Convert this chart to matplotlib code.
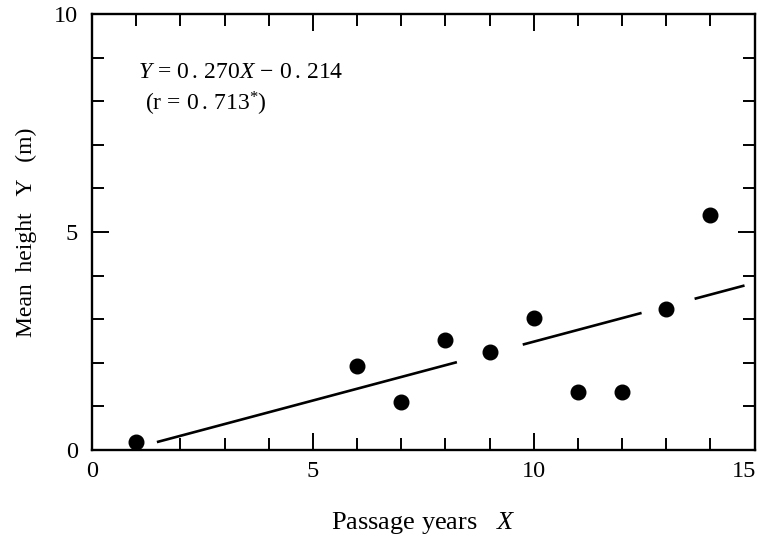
import matplotlib.pyplot as plt
from matplotlib.transforms import ScaledTranslation

plt.rcParams['font.family'] = 'Liberation Serif'
plt.rcParams['mathtext.fontset'] = 'custom'
plt.rcParams['mathtext.rm'] = 'Liberation Serif'
plt.rcParams['mathtext.it'] = 'Liberation Serif:italic'

# Passage years (X) and mean height (Y, m)
years = [1, 6, 7, 8, 9, 10, 11, 12, 13, 14]
heights = [0.18, 1.92, 1.10, 2.52, 2.24, 3.02, 1.33, 1.33, 3.23, 5.38]

# regression Y = 0.270X - 0.214, drawn in pieces that skip the dots
slope, intercept = 0.270, -0.214
line_pieces = [(1.47, 8.26), (9.75, 12.44), (13.64, 14.77)]

fig = plt.figure(figsize=(7.6, 5.39), dpi=100)
ax = fig.add_axes([0.121, 0.165, 0.872, 0.809])

ax.plot(years, heights, 'o', color='black', markersize=10.5)
for x0, x1 in line_pieces:
    ax.plot([x0, x1], [slope * x0 + intercept, slope * x1 + intercept],
            color='black', linewidth=1.9, solid_capstyle='butt')

ax.set_xlim(0, 15)
ax.set_ylim(0, 10)
ax.set_xticks([0, 5, 10, 15])
ax.set_yticks([0, 5, 10])
ax.set_xticks(range(16), minor=True)
ax.set_yticks(range(11), minor=True)
ax.tick_params(which='both', direction='in', top=True, right=True,
               width=1.4, labelsize=17.5, color='black')
ax.tick_params(axis='x', which='major', length=12.5, pad=8)
ax.tick_params(axis='y', which='major', length=12.5, pad=10)
ax.tick_params(which='minor', length=8.5)
for s in ax.spines.values():
    s.set_linewidth(1.7)

# last x label sits a little left so it stays inside the figure
last = ax.get_xticklabels()[-1]
last.set_transform(last.get_transform() + ScaledTranslation(-8 / 72, 0, fig.dpi_scale_trans))

ax.text(1.05, 8.67, r'$Y\,=\,0\,.\,270X\,-\,0\,.\,214$', fontsize=17, va='center')
ax.text(1.2, 7.94, r'$(\mathrm{r}\,=\,0\,.\,713^{*})$', fontsize=17, va='center')

ax.set_xlabel(r'Passage years   $X$', fontsize=19, labelpad=20)
ax.set_ylabel('Mean  height   Y   (m)', fontsize=17, labelpad=12)

plt.savefig('out.png', dpi=100)
